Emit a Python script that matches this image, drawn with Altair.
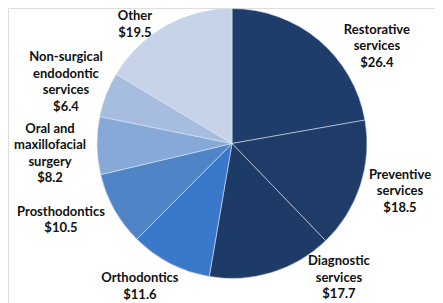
import altair as alt
import pandas as pd
import math

categories = ["Restorative services", "Preventive services", "Diagnostic services",
              "Orthodontics", "Prosthodontics", "Oral and maxillofacial surgery",
              "Non-surgical endodontic services", "Other"]
values = [26.4, 18.5, 17.7, 11.6, 10.5, 8.2, 6.4, 19.5]
label_lines = [
    "Restorative\nservices\n$26.4",
    "Preventive\nservices\n$18.5",
    "Diagnostic\nservices\n$17.7",
    "Orthodontics\n$11.6",
    "Prosthodontics\n$10.5",
    "Oral and\nmaxillofacial\nsurgery\n$8.2",
    "Non-surgical\nendodontic\nservices\n$6.4",
    "Other\n$19.5",
]
colors = ["#1f3d6b", "#1f3c69", "#1e3a66", "#3a78c9", "#4f85c7", "#86a9d8", "#a6bde0", "#c6d3e9"]

# label layout: first-line anchor, angle in degrees clockwise from top, distance from centre in px
label_angle = [51.9, 100.6, 137.7, 214.3, 248.2, 274.6, 297.5, 322.7]
label_radius = [184.1, 170.9, 158.9, 163.4, 184.2, 182.6, 187.2, 160.2]

df = pd.DataFrame({"category": categories, "value": values, "idx": list(range(len(values)))})
lab = pd.DataFrame({"label": label_lines, "angle": label_angle, "r": label_radius})

cx, cy = 224, 135.5

arcs = alt.Chart(df).mark_arc(radius=135, stroke="#dfe6f2", strokeWidth=0.8, strokeOpacity=0.7).encode(
    theta=alt.Theta("value:Q", stack=True),
    order=alt.Order("idx:Q"),
    color=alt.Color("category:N", scale=alt.Scale(domain=categories, range=colors), legend=None),
    x=alt.value(cx), y=alt.value(cy),
)

shade = alt.Chart(df).mark_arc(
    radius=135,
    fill=alt.Gradient(gradient="radial", x1=0.5, y1=0.5, r1=0, x2=0.5, y2=0.5, r2=0.5,
                      stops=[alt.GradientStop(color="#000000", offset=0),
                             alt.GradientStop(color="#000000", offset=0.9),
                             alt.GradientStop(color="#000000", offset=1)]),
    opacity=0.0,
).encode(
    x=alt.value(cx), y=alt.value(cy),
)

texts = alt.Chart(lab).mark_text(
    font="Lato", fontWeight="bold", fontSize=13, lineBreak="\n", lineHeight=16.5,
    align="center", baseline="middle", color="#111111"
).encode(
    theta=alt.Theta("angle:Q", scale=alt.Scale(domain=[0, 360], range=[0, 2 * math.pi])),
    radius=alt.Radius("r:Q", scale=alt.Scale(type="linear", domain=[0, 200], range=[0, 200])),
    text="label:N",
    x=alt.value(cx), y=alt.value(cy),
)

chart = alt.layer(arcs, texts).resolve_scale(theta="independent", radius="independent").properties(
    width=427, height=295, autosize=alt.AutoSizeParams(type="none"), padding=0
).configure_view(stroke=None).configure(background="white")

chart.save("out.html", embed_options={"renderer": "svg", "actions": False})
